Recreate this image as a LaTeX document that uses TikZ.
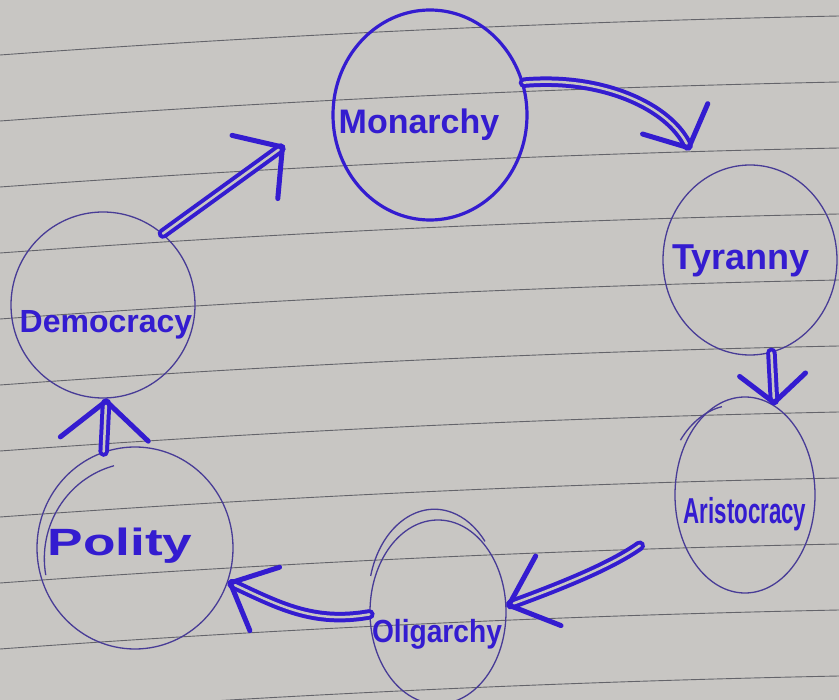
\documentclass[tikz,border=0pt]{standalone}
\usepackage{fontspec}
\setmainfont{Liberation Sans}
\usetikzlibrary{shapes.geometric,arrows.meta}
\definecolor{paper}{RGB}{200,198,195}
\definecolor{rulecol}{RGB}{100,100,106}
\definecolor{ink}{RGB}{52,28,208}
\definecolor{pencil}{RGB}{72,60,150}
\begin{document}
\begin{tikzpicture}[x=1pt,y=1pt,
  oval/.style={ellipse,draw=pencil,line width=1.3pt,inner sep=0pt},
  thickoval/.style={ellipse,draw=ink,line width=3.2pt,inner sep=0pt},
  lbl/.style={text=ink,anchor=base,inner sep=0pt},
  arr/.style={draw=ink,line width=4pt,double=paper,double distance=2.5pt,line cap=round},
  rulel/.style={draw=rulecol,line width=0.9pt}]
\useasboundingbox (0,0) rectangle (839,-700);
\fill[paper] (0,0) rectangle (839,-700);
\foreach \L in {55,121,...,715}
  \draw[rulel] (0,-\L) .. controls (280,-\L+20.3) and (560,-\L+33.3) .. (839,-\L+39);

% circles
\node[thickoval,minimum width=194pt,minimum height=210pt] (mon) at (430,-115) {};
\node[oval,minimum width=174pt,minimum height=190pt] (tyr) at (750,-260) {};
\node[oval,minimum width=140pt,minimum height=196pt] (ari) at (745,-495) {};
\node[oval,minimum width=136pt,minimum height=184pt] (oli) at (438,-612) {};
\node[oval,minimum width=196pt,minimum height=202pt] (pol) at (135,-548) {};
\node[oval,minimum width=184pt,minimum height=186pt] (dem) at (103,-305) {};

% extra pencil strokes
\draw[draw=pencil,line width=1.3pt] ([yshift=18pt]oli.165) arc[start angle=165,end angle=40,x radius=66pt,y radius=90pt];
\draw[draw=pencil,line width=1.3pt] ([shift={(8pt,-10pt)}]pol.190) arc[start angle=190,end angle=105,x radius=94pt,y radius=96pt];
\draw[draw=pencil,line width=1.3pt] ([shift={(-4pt,4pt)}]ari.140) arc[start angle=140,end angle=100,x radius=70pt,y radius=98pt];

% labels
\node[lbl,font=\bfseries\fontsize{34}{40}\selectfont] (tmon) at (419,-134) {Monarchy};
\node[lbl,font=\bfseries\fontsize{36}{42}\selectfont] (ttyr) at (741,-270) {Tyranny};
\node[lbl,font=\bfseries\fontsize{36}{42}\selectfont] (tari) at (745,-524) {\scalebox{0.62}[1]{Aristocracy}};
\node[lbl,font=\bfseries\fontsize{32}{38}\selectfont] (toli) at (437,-642) {\scalebox{0.88}[1]{Oligarchy}};
\node[lbl,font=\bfseries\fontsize{38}{44}\selectfont] (tpol) at (120,-556) {\scalebox{1.4}[1]{Polity}};
\node[lbl,font=\bfseries\fontsize{32}{38}\selectfont] (tdem) at (106,-333) {Democracy};

% arrows
\draw[arr,-{Straight Barb[length=34pt,width=78pt,line width=5pt,round]},shorten >=58pt] (dem.50) -- (mon.178);
\draw[arr,-{Straight Barb[length=32pt,width=72pt,line width=5pt,round]},shorten >=32pt] (mon.19) to[out=5,in=115] (tyr.120);
\draw[arr,-{Straight Barb[length=28pt,width=66pt,line width=5pt,round]}] (tyr.-77) -- (ari.72);
\draw[arr,-{Straight Barb[length=42pt,width=74pt,line width=5pt,round]},shorten <=45pt] (ari.200) to[out=215,in=20] (oli.5);
\draw[arr,-{Straight Barb[length=38pt,width=70pt,line width=5pt,round]}] (oli.182) to[out=190,in=-25] (pol.-20);
\draw[arr,-{Straight Barb[length=38pt,width=88pt,line width=5pt,round]}] (pol.108) -- (dem.-88);
\end{tikzpicture}
\end{document}
